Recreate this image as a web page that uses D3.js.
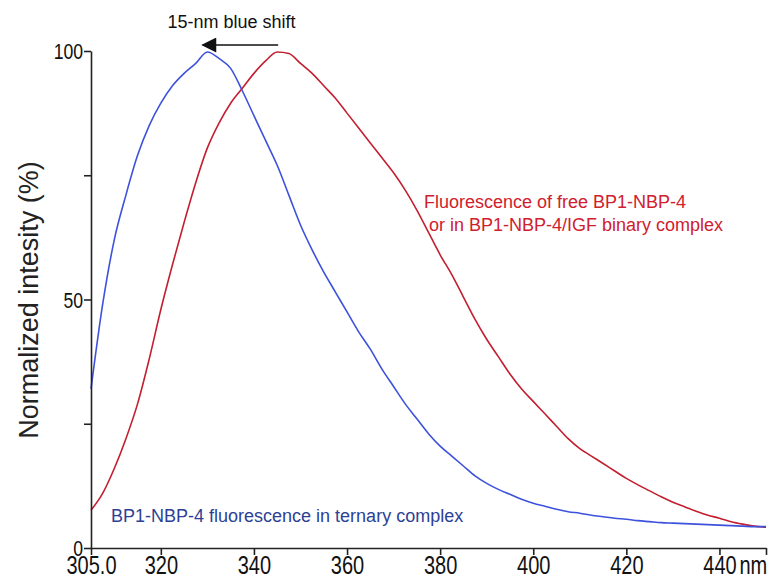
<!DOCTYPE html>
<html><head><meta charset="utf-8">
<script src="https://cdn.jsdelivr.net/npm/d3@7"></script>
<style>
body{margin:0;background:#fff;}
text{font-family:"Liberation Sans",Arial,sans-serif;}
</style></head><body>
<svg id="c" width="770" height="578"></svg>
<script>
const wavelengths = [305,307.5,310,312.5,315,317.5,320,322.5,325,327.5,330,332.5,335,337.5,340,342.5,345,347.5,350,352.5,355,357.5,360,362.5,365,367.5,370,372.5,375,377.5,380,382.5,385,387.5,390,392.5,395,397.5,400,402.5,405,407.5,410,412.5,415,417.5,420,422.5,425,427.5,430,432.5,435,437.5,440,442.5,445,447.5,450];
const ternary = [32,49,62,71,79,85,89.5,93,95.5,97.5,99.8,98.5,96.5,92,87,82,77,71,65,60,55.5,51.5,47.5,43.5,40,36,32.5,29,26,23,20.5,18.5,16.5,14.5,13,11.8,10.8,9.8,9.0,8.4,7.8,7.3,7.0,6.6,6.3,6.0,5.8,5.5,5.3,5.1,5.0,4.9,4.8,4.7,4.6,4.5,4.4,4.3,4.3];
const free = [7.6,11,16,22,29,38,48,57,65.5,73.5,80.5,85.5,89.5,92.5,95.5,98,99.8,99.5,97.5,95.5,93,90.5,87.5,84.5,81.5,78.5,75.5,72,68,63.5,59,55,50.5,46,42,38.5,35,32,29.5,27,24.5,22,20,18.5,17,15.5,14,12.7,11.5,10.3,9.2,8.3,7.4,6.6,6,5.3,4.8,4.4,4.2];
const xTicks = [305,320,340,360,380,400,420,440,450];
const xTickLabels = ["305.0","320","340","360","380","400","420","440",""];
const yTicks = [0,25,50,75,100];
const yTickLabels = ["0","","50","","100"];

const svg = d3.select("#c");
const x = d3.scaleLinear().domain([305,450]).range([91,766]);
const y = d3.scaleLinear().domain([0,100]).range([548,51]);

const line = d3.line().x(d=>x(d[0])).y(d=>y(d[1])).curve(d3.curveMonotoneX);
svg.append("path").datum(wavelengths.map((w,i)=>[w,free[i]]))
  .attr("d",line).attr("fill","none").attr("stroke","#c21f30").attr("stroke-width",1.6);
svg.append("path").datum(wavelengths.map((w,i)=>[w,ternary[i]]))
  .attr("d",line).attr("fill","none").attr("stroke","#3d52dc").attr("stroke-width",1.6);

const xa = svg.append("g").attr("transform","translate(0,548)")
  .call(d3.axisBottom(x).tickValues(xTicks).tickSize(7).tickSizeOuter(0)
    .tickFormat((d,i)=>xTickLabels[i]));
xa.selectAll(".tick text").attr("font-size",25).attr("fill","#111")
  .attr("y",0).attr("dy",0).attr("transform","translate(0,26) scale(0.8,1)");
xa.append("text").attr("transform",`translate(${x(440)+20},26) scale(0.8,1)`)
  .attr("font-size",25).attr("fill","#111").attr("text-anchor","start").text("nm");

const ya = svg.append("g").attr("transform","translate(91,0)")
  .call(d3.axisLeft(y).tickValues(yTicks).tickSize(7).tickSizeOuter(0)
    .tickFormat((d,i)=>yTickLabels[i]));
ya.selectAll(".tick text").attr("font-size",22).attr("fill","#111")
  .attr("x",0).attr("dy","0.35em").attr("transform","translate(-8,0) scale(0.8,1)");
[xa,ya].forEach(g=>{g.selectAll("path,line").attr("stroke","#222").attr("stroke-width",1.6);});

svg.append("text").attr("transform","translate(38,300) rotate(-90)")
  .attr("text-anchor","middle").attr("font-size",27).attr("fill","#222")
  .text("Normalized intesity (%)");

// arrow annotation
svg.append("defs").append("marker").attr("id","ah").attr("viewBox","0 0 10 10")
  .attr("refX",9).attr("refY",5).attr("markerWidth",16).attr("markerHeight",15)
  .attr("markerUnits","userSpaceOnUse").attr("orient","auto")
  .append("path").attr("d","M0,0L10,5L0,10Z").attr("fill","#111");
svg.append("line").attr("x1",x(345.2)).attr("x2",x(329.0)).attr("y1",y(101.2)).attr("y2",y(101.2))
  .attr("stroke","#111").attr("stroke-width",1.6).attr("marker-end","url(#ah)");
svg.append("text").attr("x",x(335.2)).attr("y",28).attr("text-anchor","middle")
  .attr("font-size",18).attr("fill","#111").text("15-nm blue shift");

svg.append("text").attr("x",424).attr("y",208).attr("font-size",18).attr("fill","#d0202e")
  .text("Fluorescence of free BP1-NBP-4");
svg.append("text").attr("x",424).attr("y",231).attr("font-size",18).attr("fill","#d0202e")
  .attr("xml:space","preserve").text(" or in BP1-NBP-4/IGF binary complex");
svg.append("text").attr("x",111).attr("y",522).attr("font-size",18).attr("fill","#2d3f96")
  .text("BP1-NBP-4 fluorescence in ternary complex");
</script></body></html>
